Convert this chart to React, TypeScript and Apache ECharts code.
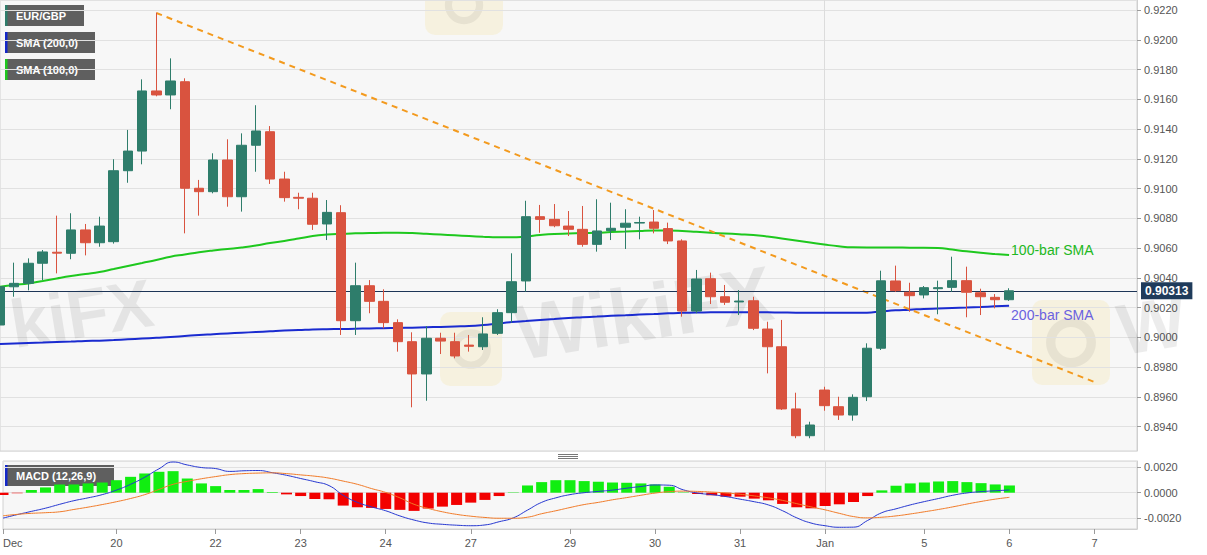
import React, { useEffect, useRef } from 'react';
import * as echarts from 'echarts';

// ---- x axis (4-hour bars, bar index -> day label) ----
const totalSlots = 81;
const tickIndex = [0, 8, 15, 21, 27, 33, 40, 46, 52, 58, 65, 71, 77];
const tickLabels = ['Dec', '20', '22', '23', '24', '27', '29', '30', '31', 'Jan', '5', '6', '7'];
const janIndex = 58;

// ---- EUR/GBP OHLC ----
const openP = [
  0.90083, 0.90340, 0.90363, 0.90498, 0.90572, 0.90565, 0.90722, 0.90636, 0.90643, 0.91120,
  0.91252, 0.91656, 0.91629, 0.91718, 0.91002, 0.90979, 0.91192, 0.90945, 0.91291, 0.91382,
  0.91064, 0.90941, 0.90935, 0.90762, 0.90838, 0.90112, 0.90347, 0.90242, 0.90099, 0.89971,
  0.89754, 0.89994, 0.89971, 0.89948, 0.89937, 0.90027, 0.90166, 0.90379, 0.90811, 0.90793,
  0.90748, 0.90726, 0.90625, 0.90717, 0.90740, 0.90768, 0.90775, 0.90731, 0.90648, 0.90177,
  0.90394, 0.90273, 0.90238, 0.90246, 0.90056, 0.89937, 0.89519, 0.89339, 0.89646, 0.89534,
  0.89478, 0.89601, 0.89927, 0.90379, 0.90303, 0.90285, 0.90327, 0.90336, 0.90381, 0.90300,
  0.90269, 0.90253,
];
const closeP = [
  0.90340, 0.90363, 0.90498, 0.90574, 0.90566, 0.90722, 0.90636, 0.90748, 0.91120, 0.91252,
  0.91656, 0.91629, 0.91723, 0.91002, 0.90979, 0.91192, 0.90945, 0.91291, 0.91387, 0.91064,
  0.90939, 0.90935, 0.90760, 0.90840, 0.90112, 0.90347, 0.90242, 0.90099, 0.89971, 0.89754,
  0.89994, 0.89975, 0.89875, 0.89940, 0.90023, 0.90166, 0.90374, 0.90811, 0.90793, 0.90750,
  0.90726, 0.90625, 0.90715, 0.90733, 0.90767, 0.90772, 0.90733, 0.90648, 0.90177, 0.90392,
  0.90273, 0.90236, 0.90244, 0.90061, 0.89937, 0.89519, 0.89339, 0.89411, 0.89541, 0.89478,
  0.89597, 0.89927, 0.90380, 0.90314, 0.90280, 0.90334, 0.90334, 0.90381, 0.90303, 0.90273,
  0.90253, 0.90313,
];
const lowP = [
  0.90050, 0.90273, 0.90316, 0.90385, 0.90430, 0.90525, 0.90551, 0.90609, 0.90630, 0.91039,
  0.91163, 0.91620, 0.91533, 0.90699, 0.90818, 0.90968, 0.90878, 0.90845, 0.91113, 0.91031,
  0.90912, 0.90861, 0.90722, 0.90654, 0.90016, 0.90016, 0.90162, 0.90061, 0.89904, 0.89530,
  0.89574, 0.89888, 0.89859, 0.89904, 0.89915, 0.90016, 0.90099, 0.90307, 0.90703, 0.90740,
  0.90681, 0.90609, 0.90576, 0.90654, 0.90594, 0.90659, 0.90699, 0.90627, 0.90139, 0.90162,
  0.90224, 0.90218, 0.90150, 0.90049, 0.89758, 0.89512, 0.89322, 0.89322, 0.89507, 0.89445,
  0.89440, 0.89572, 0.89915, 0.90306, 0.90172, 0.90262, 0.90155, 0.90306, 0.90135, 0.90150,
  0.90195, 0.90245,
];
const highP = [
  0.90360, 0.90502, 0.90531, 0.90587, 0.90818, 0.90834, 0.90762, 0.90811, 0.91197, 0.91394,
  0.91734, 0.92182, 0.91875, 0.91741, 0.91058, 0.91237, 0.91331, 0.91371, 0.91560, 0.91420,
  0.91113, 0.90972, 0.90972, 0.90923, 0.90888, 0.90502, 0.90385, 0.90323, 0.90121, 0.90034,
  0.90076, 0.90031, 0.90031, 0.90016, 0.90135, 0.90189, 0.90565, 0.90918, 0.90890, 0.90896,
  0.90849, 0.90883, 0.90928, 0.90905, 0.90861, 0.90811, 0.90856, 0.90771, 0.90659, 0.90453,
  0.90435, 0.90352, 0.90318, 0.90273, 0.90105, 0.90117, 0.89628, 0.89433, 0.89668, 0.89601,
  0.89617, 0.89960, 0.90448, 0.90482, 0.90367, 0.90345, 0.90381, 0.90542, 0.90475, 0.90327,
  0.90291, 0.90330,
];
const lastPrice = 0.90313;

// ---- moving averages ----
const sma100 = [
  0.90340, 0.90352, 0.90362, 0.90379, 0.90396, 0.90412, 0.90426, 0.90439, 0.90459, 0.90480,
  0.90500, 0.90520, 0.90542, 0.90557, 0.90572, 0.90584, 0.90594, 0.90604, 0.90617, 0.90634,
  0.90648, 0.90664, 0.90681, 0.90691, 0.90696, 0.90699, 0.90701, 0.90703, 0.90703, 0.90701,
  0.90696, 0.90691, 0.90686, 0.90681, 0.90676, 0.90672, 0.90672, 0.90678, 0.90688, 0.90695,
  0.90698, 0.90701, 0.90703, 0.90708, 0.90711, 0.90715, 0.90718, 0.90718, 0.90715, 0.90709,
  0.90703, 0.90698, 0.90693, 0.90688, 0.90678, 0.90664, 0.90651, 0.90638, 0.90624, 0.90612,
  0.90605, 0.90604, 0.90604, 0.90604, 0.90603, 0.90603, 0.90601, 0.90590, 0.90578, 0.90568,
  0.90560, 0.90553,
];
const sma200 = [
  0.89955, 0.89959, 0.89962, 0.89965, 0.89969, 0.89972, 0.89976, 0.89978, 0.89982, 0.89987,
  0.89992, 0.89997, 0.90002, 0.90009, 0.90016, 0.90021, 0.90026, 0.90031, 0.90036, 0.90041,
  0.90046, 0.90049, 0.90053, 0.90055, 0.90056, 0.90058, 0.90060, 0.90062, 0.90063, 0.90065,
  0.90068, 0.90070, 0.90073, 0.90076, 0.90083, 0.90093, 0.90103, 0.90110, 0.90117, 0.90123,
  0.90130, 0.90135, 0.90140, 0.90145, 0.90149, 0.90153, 0.90157, 0.90162, 0.90165, 0.90167,
  0.90168, 0.90169, 0.90169, 0.90169, 0.90168, 0.90167, 0.90166, 0.90166, 0.90165, 0.90165,
  0.90165, 0.90166, 0.90174, 0.90182, 0.90186, 0.90191, 0.90194, 0.90197, 0.90200, 0.90204,
  0.90209, 0.90213,
];

// ---- falling trend line (bar index, price) ----
const trendIdx = [11, 77];
const trendVal = [0.92180, 0.89700];

// ---- MACD (12,26,9) ----
const macdLine = [
  -0.00197, -0.00170, -0.00145, -0.00120, -0.00090, -0.00062, -0.00040, -0.00015, 0.00020, 0.00065,
  0.00120, 0.00185, 0.00238, 0.00215, 0.00195, 0.00187, 0.00165, 0.00170, 0.00172, 0.00155,
  0.00135, 0.00110, 0.00085, 0.00055, -0.00020, -0.00075, -0.00110, -0.00140, -0.00180, -0.00212,
  -0.00235, -0.00245, -0.00252, -0.00256, -0.00250, -0.00225, -0.00195, -0.00135, -0.00075, -0.00040,
  -0.00015, 0.00000, 0.00010, 0.00020, 0.00035, 0.00048, 0.00060, 0.00058, 0.00022, -0.00003,
  -0.00015, -0.00030, -0.00050, -0.00070, -0.00095, -0.00140, -0.00195, -0.00235, -0.00256, -0.00268,
  -0.00267, -0.00215, -0.00155, -0.00125, -0.00095, -0.00069, -0.00045, -0.00020, -0.00002, 0.00008,
  0.00015, 0.00021,
];
const signalLine = [
  -0.00179, -0.00168, -0.00160, -0.00155, -0.00148, -0.00130, -0.00112, -0.00092, -0.00070, -0.00045,
  -0.00015, 0.00025, 0.00065, 0.00088, 0.00108, 0.00125, 0.00140, 0.00148, 0.00152, 0.00154,
  0.00148, 0.00138, 0.00128, 0.00113, 0.00090, 0.00065, 0.00032, 0.00002, -0.00040, -0.00090,
  -0.00122, -0.00148, -0.00168, -0.00182, -0.00192, -0.00198, -0.00198, -0.00190, -0.00163, -0.00140,
  -0.00115, -0.00092, -0.00075, -0.00055, -0.00038, -0.00020, -0.00003, 0.00008, 0.00012, 0.00010,
  0.00005, -0.00002, -0.00012, -0.00025, -0.00040, -0.00060, -0.00085, -0.00110, -0.00133, -0.00160,
  -0.00185, -0.00195, -0.00190, -0.00180, -0.00165, -0.00148, -0.00130, -0.00110, -0.00088, -0.00068,
  -0.00050, -0.00036,
];
const macdHist = [
  -0.00018, -0.00004, 0.00021, 0.00041, 0.00064, 0.00064, 0.00072, 0.00079, 0.00097, 0.00123,
  0.00149, 0.00162, 0.00167, 0.00110, 0.00072, 0.00051, 0.00021, 0.00021, 0.00028, 0.00005,
  -0.00013, -0.00026, -0.00049, -0.00051, -0.00100, -0.00113, -0.00118, -0.00126, -0.00133, -0.00141,
  -0.00123, -0.00108, -0.00095, -0.00077, -0.00056, -0.00026, 0.00003, 0.00056, 0.00082, 0.00097,
  0.00097, 0.00090, 0.00085, 0.00079, 0.00077, 0.00072, 0.00064, 0.00046, 0.00003, -0.00010,
  -0.00020, -0.00031, -0.00031, -0.00046, -0.00059, -0.00087, -0.00113, -0.00121, -0.00103, -0.00090,
  -0.00072, -0.00026, 0.00018, 0.00054, 0.00072, 0.00079, 0.00087, 0.00090, 0.00082, 0.00074,
  0.00064, 0.00056,
];

const FONT = '"Liberation Sans", Arial, Helvetica, sans-serif';
const GREEN = '#2e7d6b';
const RED = '#d9533f';

function legendBox(x: number, y: number, w: number, stripe: string, label: string) {
  return {
    type: 'group',
    z: 50,
    children: [
      { type: 'rect', shape: { x, y, width: w, height: 21 }, style: { fill: '#5f5f5f' } },
      { type: 'rect', shape: { x, y, width: 2.5, height: 21 }, style: { fill: stripe } },
      {
        type: 'text',
        x: x + 11,
        y: y + 11,
        style: { text: label, fill: '#ffffff', font: `bold 11px ${FONT}`, verticalAlign: 'middle', align: 'left' },
      },
    ],
  };
}

function watermarkText(x: number, y: number, text: string, size: number) {
  return {
    type: 'text',
    x,
    y,
    rotation: 0.16,
    z: 1,
    silent: true,
    style: { text, fill: 'rgba(0,0,0,0.075)', font: `bold ${size}px ${FONT}`, verticalAlign: 'bottom', align: 'left' },
  };
}

function watermarkLogo(x: number, y: number, w: number, h: number) {
  return {
    type: 'group',
    z: 1,
    silent: true,
    children: [
      { type: 'rect', shape: { x, y, width: w, height: h, r: 10 }, style: { fill: 'rgba(246,222,140,0.22)' } },
      {
        type: 'ring',
        shape: { cx: x + w / 2, cy: y + h / 2, r: Math.min(w, h) * 0.32, r0: Math.min(w, h) * 0.2 },
        style: { fill: 'rgba(0,0,0,0.06)' },
      },
    ],
  };
}

export default function App() {
  const ref = useRef<HTMLDivElement>(null);

  useEffect(() => {
    if (!ref.current) return;
    const chart = echarts.init(ref.current, undefined, { renderer: 'svg' });

    const categories: string[] = new Array(totalSlots).fill('');
    tickIndex.forEach((idx, k) => {
      categories[idx] = tickLabels[k];
    });
    const isTick = (index: number) => categories[index] !== '';

    const candleData = openP.map((o, i) => [o, closeP[i], lowP[i], highP[i]]);
    const trendData = trendIdx.map((x, i) => [x, trendVal[i]]);

    const option: any = {
      animation: false,
      backgroundColor: '#ffffff',
      textStyle: { fontFamily: FONT },
      grid: [
        { left: 0, top: 0, width: 1137, height: 451, show: true, backgroundColor: '#f7f7f7', borderColor: '#d2d2d2', borderWidth: 1 },
        { left: 0, top: 461, width: 1137, height: 68, show: true, backgroundColor: '#f7f7f7', borderColor: '#d2d2d2', borderWidth: 1 },
      ],
      xAxis: [
        {
          type: 'category',
          gridIndex: 0,
          data: categories,
          boundaryGap: false,
          axisLine: { show: false, onZero: false },
          axisTick: { show: false },
          axisLabel: { show: false },
          splitLine: { show: true, interval: (i: number) => i === janIndex, lineStyle: { color: '#dcdcdc' } },
        },
        {
          type: 'category',
          gridIndex: 1,
          data: categories,
          boundaryGap: false,
          position: 'bottom',
          axisLine: { show: true, onZero: false, lineStyle: { color: '#cfcfcf' } },
          axisTick: { show: true, interval: (i: number) => isTick(i), length: 5, lineStyle: { color: '#9a9a9a' } },
          axisLabel: {
            show: true,
            interval: (i: number) => isTick(i),
            color: '#555',
            fontSize: 11,
            margin: 8,
            alignMinLabel: 'left',
          },
          splitLine: { show: true, interval: (i: number) => i === janIndex, lineStyle: { color: '#dcdcdc' } },
        },
      ],
      yAxis: [
        {
          type: 'value',
          gridIndex: 0,
          position: 'right',
          min: 0.892363,
          max: 0.922672,
          minInterval: 0.002,
          maxInterval: 0.002,
          splitNumber: 15,
          axisLine: { show: true, lineStyle: { color: '#cfcfcf' } },
          axisTick: { show: true, length: 4, lineStyle: { color: '#9a9a9a' } },
          axisLabel: {
            color: '#555',
            fontSize: 11,
            margin: 7,
            showMinLabel: false,
            showMaxLabel: false,
            formatter: (v: number) => v.toFixed(4),
          },
          splitLine: { show: true, lineStyle: { color: '#e1e1e1' } },
        },
        {
          type: 'value',
          gridIndex: 1,
          position: 'right',
          min: -0.002814,
          max: 0.002457,
          minInterval: 0.002,
          maxInterval: 0.002,
          splitNumber: 3,
          axisLine: { show: true, lineStyle: { color: '#cfcfcf' } },
          axisTick: { show: true, length: 4, lineStyle: { color: '#9a9a9a' } },
          axisLabel: {
            color: '#555',
            fontSize: 11,
            margin: 7,
            showMinLabel: false,
            showMaxLabel: false,
            formatter: (v: number) => v.toFixed(4),
          },
          splitLine: { show: true, lineStyle: { color: '#e1e1e1' } },
        },
      ],
      series: [
        {
          name: 'SMA100',
          type: 'line',
          xAxisIndex: 0,
          yAxisIndex: 0,
          data: sma100,
          showSymbol: false,
          smooth: true,
          z: 3,
          lineStyle: { color: '#1ec81e', width: 2 },
          endLabel: {
            show: true,
            formatter: '100-bar SMA',
            color: '#22b822',
            fontSize: 14,
            distance: 2,
            offset: [0, -5],
          },
        },
        {
          name: 'SMA200',
          type: 'line',
          xAxisIndex: 0,
          yAxisIndex: 0,
          data: sma200,
          showSymbol: false,
          smooth: true,
          z: 3,
          lineStyle: { color: '#1a2bd0', width: 2 },
          endLabel: {
            show: true,
            formatter: '200-bar SMA',
            color: '#6b62e0',
            fontSize: 14,
            distance: 2,
            offset: [0, 9],
          },
        },
        {
          name: 'Trend',
          type: 'line',
          xAxisIndex: 0,
          yAxisIndex: 0,
          data: trendData,
          showSymbol: false,
          z: 4,
          lineStyle: { color: '#f39a1e', width: 2, type: [6, 5] },
          markLine: {
            silent: true,
            precision: 5,
            symbol: ['none', 'none'],
            data: [{ yAxis: lastPrice }],
            lineStyle: { color: '#1d3557', width: 1, type: 'solid' },
            label: {
              show: true,
              position: 'end',
              formatter: () => lastPrice.toFixed(5),
              backgroundColor: '#1f3b5b',
              color: '#ffffff',
              fontWeight: 'bold',
              fontSize: 12,
              padding: [3, 4, 2, 4],
              distance: 4,
            },
          },
        },
        {
          name: 'EUR/GBP',
          type: 'candlestick',
          xAxisIndex: 0,
          yAxisIndex: 0,
          data: candleData,
          barWidth: 10,
          z: 5,
          itemStyle: {
            color: GREEN,
            color0: RED,
            borderColor: GREEN,
            borderColor0: RED,
            borderWidth: 1,
          },
        },
        {
          name: 'Histogram',
          type: 'bar',
          xAxisIndex: 1,
          yAxisIndex: 1,
          data: macdHist.map((v) => ({
            value: v,
            itemStyle: { color: v >= 0 ? '#11ee11' : '#f20000' },
          })),
          barWidth: 11,
          z: 2,
        },
        {
          name: 'MACD',
          type: 'line',
          xAxisIndex: 1,
          yAxisIndex: 1,
          data: macdLine,
          showSymbol: false,
          smooth: true,
          z: 4,
          lineStyle: { color: '#2536d0', width: 1 },
        },
        {
          name: 'Signal',
          type: 'line',
          xAxisIndex: 1,
          yAxisIndex: 1,
          data: signalLine,
          showSymbol: false,
          smooth: true,
          z: 4,
          lineStyle: { color: '#f07a28', width: 1 },
        },
      ],
      graphic: [
        watermarkLogo(425, -25, 78, 60),
        watermarkLogo(440, 312, 62, 74),
        watermarkLogo(1032, 300, 78, 85),
        watermarkText(16, 358, 'kiFX', 68),
        watermarkText(522, 372, 'WikiFX', 78),
        watermarkText(1124, 366, 'W', 72),
        legendBox(5, 5, 79, GREEN, 'EUR/GBP'),
        legendBox(5, 32, 90, '#1428c8', 'SMA (200,0)'),
        legendBox(5, 59, 90, '#1ec81e', 'SMA (100,0)'),
        legendBox(5, 465, 109, '#1428c8', 'MACD (12,26,9)'),
        {
          type: 'group',
          z: 50,
          children: [454.5, 456.5, 458.5].map((yy) => ({
            type: 'line',
            shape: { x1: 558, y1: yy, x2: 578, y2: yy },
            style: { stroke: '#777777', lineWidth: 1 },
          })),
        },
      ],
    };

    chart.setOption(option);
    return () => {
      chart.dispose();
    };
  }, []);

  return (
    <div
      ref={ref}
      style={{ position: 'fixed', left: 0, top: 0, width: 1207, height: 555, background: '#ffffff' }}
    />
  );
}
